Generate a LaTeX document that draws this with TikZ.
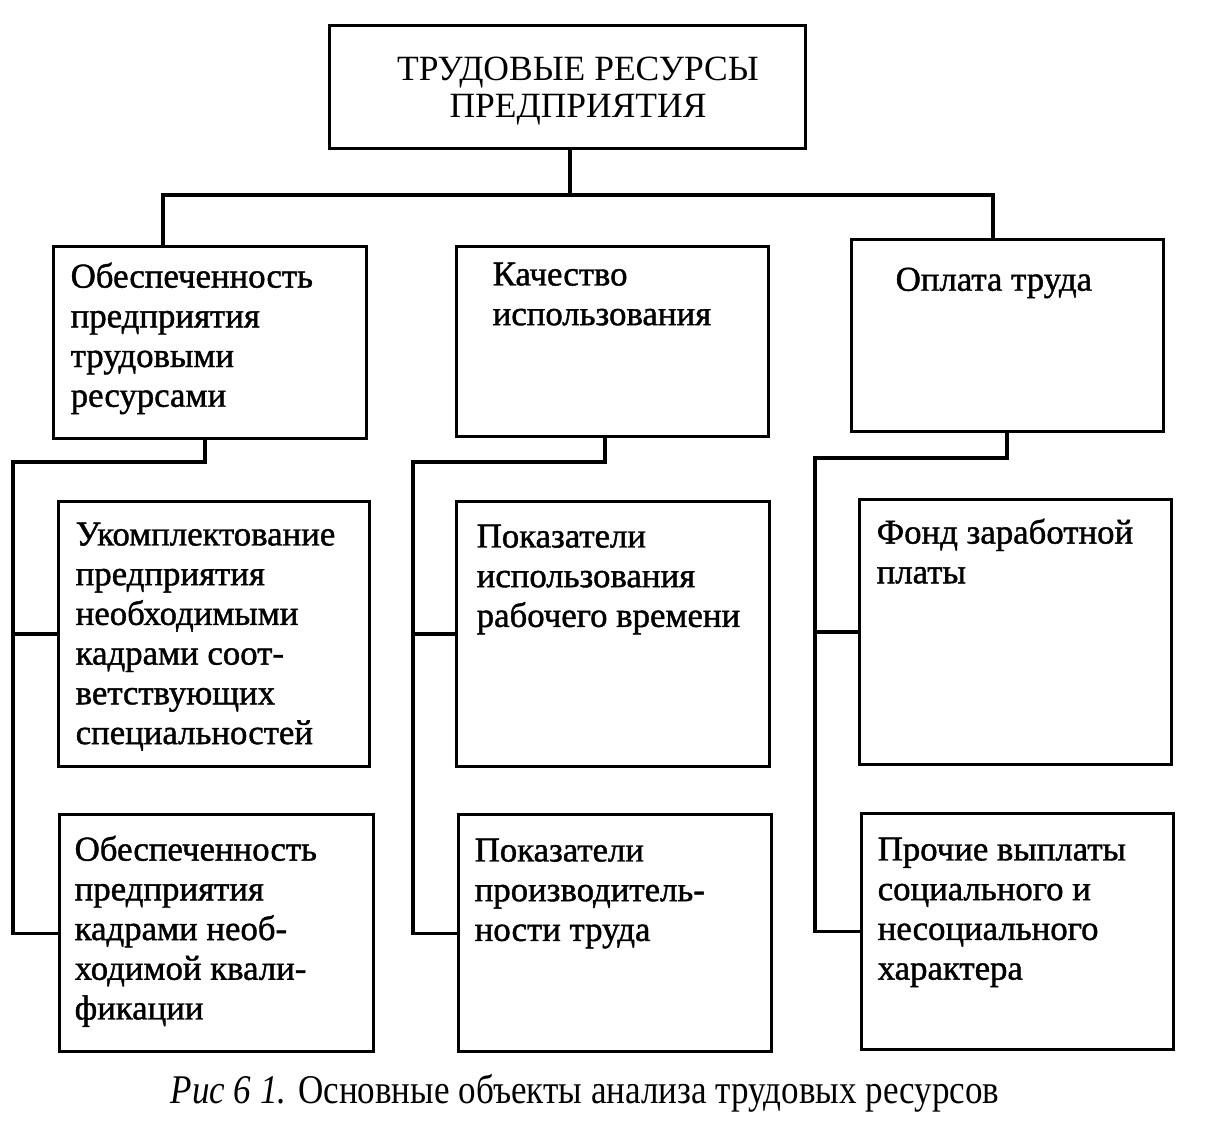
\documentclass[tikz,border=0pt]{standalone}
\usepackage{fontspec}
\setmainfont{Liberation Serif}
\newfontfamily\boxfont{Liberation Serif}[FakeBold=1.2]
\newfontfamily\capfont{Liberation Serif}[FakeStretch=0.86]
\usetikzlibrary{calc}

\tikzset{
	unit/.style = {draw, line width = 0.9pt, anchor = north west, inner sep = 0pt},
	note/.style = {anchor = north west, inner sep = 0pt, align = left, font = \boxfont\fontsize{9.9}{11.3}\selectfont},
	link/.style = {line width = 0.9pt}
}

\begin{document}
\begin{tikzpicture}[x = 0.1mm, y = -0.1mm]
	\def\px{0.1mm}
	\useasboundingbox (0,0) rectangle (1215,1129);

	% top box
	\node[unit, minimum width = 476*\px, minimum height = 123*\px] (top) at (328,24) {};
	\node[align = center, inner sep = 0pt, font = \fontsize{10.1}{10.6}\selectfont] (t-top) at (578,91)
		{ТРУДОВЫЕ РЕСУРСЫ\\ПРЕДПРИЯТИЯ};

	% first row
	\node[unit, minimum width = 313*\px, minimum height = 192*\px] (obesp) at (52,245) {};
	\node[unit, minimum width = 312*\px, minimum height = 190*\px] (kach) at (455,245) {};
	\node[unit, minimum width = 312*\px, minimum height = 192*\px] (oplata) at (850,238) {};

	% second row
	\node[unit, minimum width = 311*\px, minimum height = 265*\px] (ukompl) at (57,500) {};
	\node[unit, minimum width = 313*\px, minimum height = 265*\px] (rabvr) at (455,500) {};
	\node[unit, minimum width = 312*\px, minimum height = 265*\px] (fond) at (858,498) {};

	% third row
	\node[unit, minimum width = 314*\px, minimum height = 237*\px] (kval) at (58,813) {};
	\node[unit, minimum width = 313*\px, minimum height = 237*\px] (proizv) at (457,813) {};
	\node[unit, minimum width = 312*\px, minimum height = 236*\px] (prochie) at (860,812) {};

	% texts
	\node[note] (t-obesp) at ([shift = {(18,17)}]obesp.north west) {Обеспеченность\\предприятия\\трудовыми\\ресурсами};
	\node[note] (t-kach) at ([shift = {(37,17)}]kach.north west) {Качество\\использования};
	\node[note] (t-oplata) at ([shift = {(45,29)}]oplata.north west) {Оплата труда};
	\node[note] (t-ukompl) at ([shift = {(18,22)}]ukompl.north west) {Укомплектование\\предприятия\\необходимыми\\кадрами соот-\\ветствующих\\специальностей};
	\node[note] (t-rabvr) at ([shift = {(21,24)}]rabvr.north west) {Показатели\\использования\\рабочего времени};
	\node[note] (t-fond) at ([shift = {(18,20)}]fond.north west) {Фонд заработной\\платы};
	\node[note] (t-kval) at ([shift = {(16,22)}]kval.north west) {Обеспеченность\\предприятия\\кадрами необ-\\ходимой квали-\\фикации};
	\node[note] (t-proizv) at ([shift = {(17,25)}]proizv.north west) {Показатели\\производитель-\\ности труда};
	\node[note] (t-prochie) at ([shift = {(17,25)}]prochie.north west) {Прочие выплаты\\социального и\\несоциального\\характера};

	% caption
	\node[anchor = base west, inner sep = 0pt, font = \capfont\fontsize{11.6}{13}\selectfont] (caption) at (170,1103)
		{\textit{Рис 6 1.} Основные объекты анализа трудовых ресурсов};

	% connectors
	\begin{scope}[link]
		\coordinate (hub) at (570,195);
		\coordinate (busL) at (163,195);
		\coordinate (busR) at (993,195);
		\draw (top.south -| hub) -- (hub);
		\draw (obesp.north -| busL) -- (busL) -- (busR) -- (oplata.north -| busR);

		\coordinate (knee1) at (205,462);
		\coordinate (rail1) at (13,462);
		\draw (obesp.south -| knee1) -- (knee1) -- (rail1) -- (rail1 |- kval.west) -- (kval.west);
		\draw (rail1 |- ukompl.west) -- (ukompl.west);

		\coordinate (knee2) at (605,462);
		\coordinate (rail2) at (413,462);
		\draw (kach.south -| knee2) -- (knee2) -- (rail2) -- (rail2 |- proizv.west) -- (proizv.west);
		\draw (rail2 |- rabvr.west) -- (rabvr.west);

		\coordinate (knee3) at (1007,458);
		\coordinate (rail3) at (815,458);
		\draw (oplata.south -| knee3) -- (knee3) -- (rail3) -- (rail3 |- prochie.west) -- (prochie.west);
		\draw (rail3 |- fond.west) -- (fond.west);
	\end{scope}
\end{tikzpicture}
\end{document}
